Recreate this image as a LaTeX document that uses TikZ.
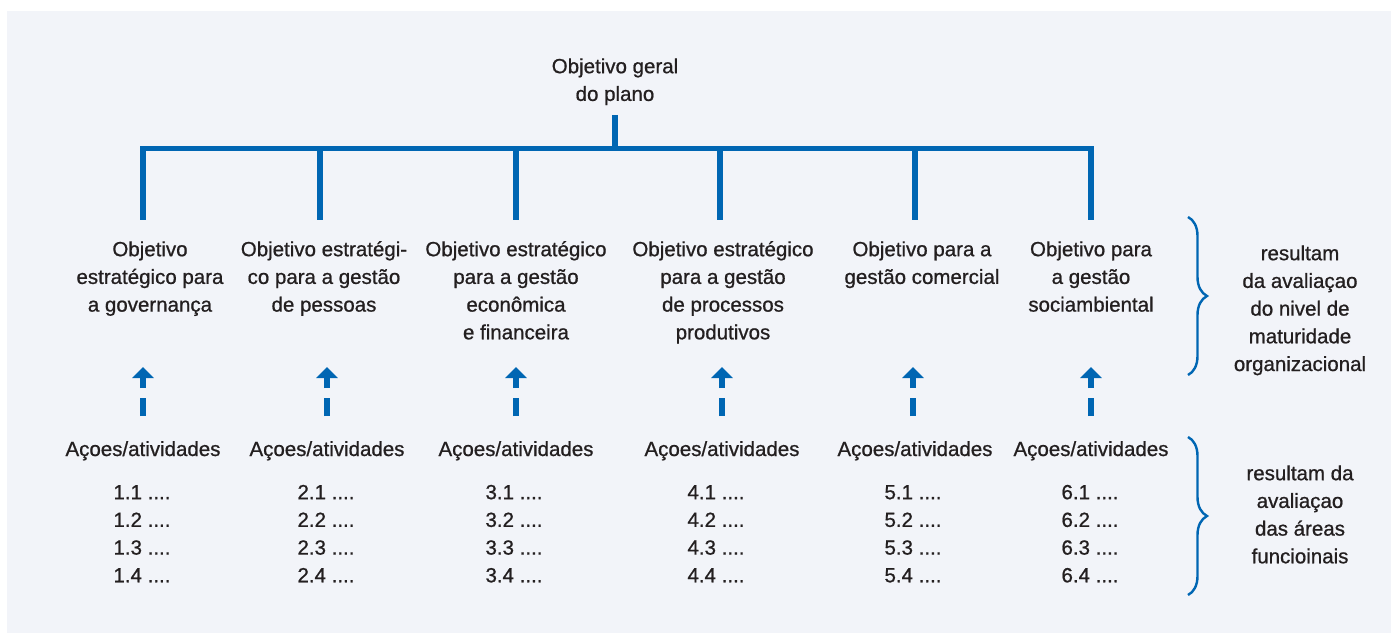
\documentclass[tikz,border=0pt]{standalone}
\usepackage{fontspec}
\setmainfont[FakeBold=0.8]{Liberation Sans}
\usetikzlibrary{arrows.meta,decorations.pathreplacing}
\definecolor{bgc}{HTML}{F2F4F9}
\definecolor{bl}{HTML}{0066B3}
\definecolor{tx}{HTML}{231F20}
\begin{document}
\begin{tikzpicture}[x=1pt,y=-1pt,
  txt/.style={font=\fontsize{20.5}{27.7}\selectfont, text=tx, inner sep=0pt, align=center},
  bar/.style={draw=bl, line width=5.5pt, line join=miter},
  upar/.style={draw=bl, line width=6pt, dash pattern=on 18pt off 10pt on 40pt,
    -{Triangle[width=21pt,length=11pt]}},
  brc/.style={draw=bl, line width=2.4pt, decorate,
    decoration={brace, amplitude=19pt, aspect=0.5}}]
\useasboundingbox (0,0) rectangle (1392,636);
\fill[bgc] (7,11) rectangle (1391,633);

% top title
\node[txt, anchor=north] (top) at (615,55) {\rule{0pt}{18pt}Objetivo geral\\do plano};

% tree
\coordinate (tstem) at (615,115);
\coordinate (tbar) at (615,148.5);
\coordinate (b1) at (143,220);
\coordinate (b2) at (320,220);
\coordinate (b3) at (516,220);
\coordinate (b4) at (720,220);
\coordinate (b5) at (915,220);
\coordinate (b6) at (1091,220);
\draw[bar] (tstem) -- (tbar);
\draw[bar] (b1) -- (b1 |- tbar) -- (b6 |- tbar) -- (b6);
\draw[bar] (b2 |- tbar) -- (b2);
\draw[bar] (b3 |- tbar) -- (b3);
\draw[bar] (b4 |- tbar) -- (b4);
\draw[bar] (b5 |- tbar) -- (b5);

% objective nodes
\node[txt, anchor=north] (o1) at (150,238) {\rule{0pt}{18pt}Objetivo\\estratégico para\\a governança};
\node[txt, anchor=north] (o2) at (324,238) {\rule{0pt}{18pt}Objetivo estratégi-\\co para a gestão\\de pessoas};
\node[txt, anchor=north] (o3) at (516,238) {\rule{0pt}{18pt}Objetivo estratégico\\para a gestão\\econômica\\e financeira};
\node[txt, anchor=north] (o4) at (723,238) {\rule{0pt}{18pt}Objetivo estratégico\\para a gestão\\de processos\\produtivos};
\node[txt, anchor=north] (o5) at (922,238) {\rule{0pt}{18pt}Objetivo para a\\gestão comercial};
\node[txt, anchor=north] (o6) at (1091,238) {\rule{0pt}{18pt}Objetivo para\\a gestão\\sociambiental};

% actions
\node[txt, anchor=base] (a1) at (143,456) {Açoes/atividades};
\node[txt, anchor=base] (a2) at (327,456) {Açoes/atividades};
\node[txt, anchor=base] (a3) at (516,456) {Açoes/atividades};
\node[txt, anchor=base] (a4) at (722,456) {Açoes/atividades};
\node[txt, anchor=base] (a5) at (915,456) {Açoes/atividades};
\node[txt, anchor=base] (a6) at (1091,456) {Açoes/atividades};

\node[txt, align=left, anchor=north] (n1) at (142,481) {\rule{0pt}{18pt}1.1 ....\\1.2 ....\\1.3 ....\\1.4 ....};
\node[txt, align=left, anchor=north] (n2) at (326,481) {\rule{0pt}{18pt}2.1 ....\\2.2 ....\\2.3 ....\\2.4 ....};
\node[txt, align=left, anchor=north] (n3) at (514,481) {\rule{0pt}{18pt}3.1 ....\\3.2 ....\\3.3 ....\\3.4 ....};
\node[txt, align=left, anchor=north] (n4) at (716,481) {\rule{0pt}{18pt}4.1 ....\\4.2 ....\\4.3 ....\\4.4 ....};
\node[txt, align=left, anchor=north] (n5) at (913,481) {\rule{0pt}{18pt}5.1 ....\\5.2 ....\\5.3 ....\\5.4 ....};
\node[txt, align=left, anchor=north] (n6) at (1090,481) {\rule{0pt}{18pt}6.1 ....\\6.2 ....\\6.3 ....\\6.4 ....};

% arrows
\coordinate (s1) at (143,416); \coordinate (e1) at (143,367);
\coordinate (s2) at (327,416); \coordinate (e2) at (327,367);
\coordinate (s3) at (516,416); \coordinate (e3) at (516,367);
\coordinate (s4) at (722,416); \coordinate (e4) at (722,367);
\coordinate (s5) at (913,416); \coordinate (e5) at (913,367);
\coordinate (s6) at (1091,416); \coordinate (e6) at (1091,367);
\draw[upar] (s1) -- (e1);
\draw[upar] (s2) -- (e2);
\draw[upar] (s3) -- (e3);
\draw[upar] (s4) -- (e4);
\draw[upar] (s5) -- (e5);
\draw[upar] (s6) -- (e6);

% braces
\coordinate (br1t) at (1188,217); \coordinate (br1b) at (1188,375);
\coordinate (br2t) at (1188,437); \coordinate (br2b) at (1188,595);
\draw[brc] (br1t) -- (br1b);
\draw[brc] (br2t) -- (br2b);

\node[txt, anchor=north] (r1) at (1300,242) {\rule{0pt}{18pt}resultam\\da avaliaçao\\do nivel de\\maturidade\\organizacional};
\node[txt, anchor=north] (r2) at (1300,462) {\rule{0pt}{18pt}resultam da\\avaliaçao\\das áreas\\funcioinais};
\end{tikzpicture}
\end{document}
